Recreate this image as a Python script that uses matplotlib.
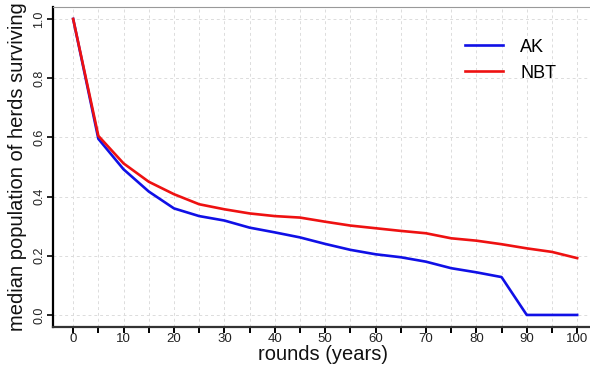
import matplotlib
matplotlib.use("Agg")
import matplotlib.pyplot as plt
import numpy as np

plt.rcParams['font.family'] = ['Liberation Sans', 'DejaVu Sans']

rounds = [0, 5, 10, 15, 20, 25, 30, 35, 40, 45, 50,
          55, 60, 65, 70, 75, 80, 85, 90, 95, 100]
ak = [1.0, 0.595, 0.492, 0.417, 0.360, 0.334, 0.319, 0.295, 0.279, 0.262, 0.240,
      0.220, 0.205, 0.195, 0.180, 0.158, 0.144, 0.128, 0.0, 0.0, 0.0]
nbt = [1.0, 0.605, 0.512, 0.450, 0.408, 0.374, 0.357, 0.343, 0.334, 0.329, 0.315,
       0.302, 0.293, 0.284, 0.276, 0.259, 0.251, 0.239, 0.225, 0.213, 0.192]

x_ticks = np.arange(0, 101, 5)
x_labels = [str(v) if v % 10 == 0 else '' for v in x_ticks]
y_ticks = [0.0, 0.2, 0.4, 0.6, 0.8, 1.0]
y_labels = ['0.0', '0.2', '0.4', '0.6', '0.8', '1.0']

W, H = 590, 367
fig = plt.figure(figsize=(W / 100, H / 100), dpi=100)
ax = fig.add_axes([53 / W, 40.2 / H, 544.3 / W, 319.7 / H])

ax.plot(rounds, ak, color='#1010e6', lw=1.9, label='AK', zorder=3)
ax.plot(rounds, nbt, color='#ee1111', lw=1.9, label='NBT', zorder=3)

ax.set_xlim(-4, 104)
ax.set_ylim(-0.04, 1.04)

ax.set_xticks(x_ticks)
ax.set_xticklabels(x_labels, fontsize=9.5)
ax.set_yticks(y_ticks)
ax.set_yticklabels(y_labels, fontsize=9, rotation=90, va='center')

ax.tick_params(axis='x', direction='out', length=4, width=1.4, pad=0.5, colors='black')
ax.tick_params(axis='y', direction='out', length=4, width=1.2, pad=1.5, colors='black')
for lab in ax.get_xticklabels():
    lab.set_color('#222222')
for lab in ax.get_yticklabels():
    lab.set_color('#222222')

ax.grid(True, color='#dcdcdc', linestyle=(0, (3, 3)), linewidth=0.7, zorder=0)
ax.set_axisbelow(True)

ax.spines['left'].set_linewidth(1.6)
ax.spines['bottom'].set_linewidth(1.6)
ax.spines['left'].set_color('black')
ax.spines['bottom'].set_color('#333333')
ax.spines['top'].set_color('#999999')
ax.spines['top'].set_linewidth(0.8)
ax.spines['right'].set_visible(False)

ax.set_xlabel('rounds (years)', fontsize=14.5, color='#111111')
ax.set_ylabel('median population of herds surviving', fontsize=14.5, color='#111111')
ax.xaxis.label.set_va('center')
ax.yaxis.label.set_va('center')
ax.xaxis.set_label_coords(0.496, -0.088)
ax.yaxis.set_label_coords((18 - 53) / 544.3, 0.5)

ax.legend(loc='upper left', bbox_to_anchor=(465 / W, 1 - 38.5 / H),
          bbox_transform=fig.transFigure, frameon=False, fontsize=13,
          handlelength=2.1, handletextpad=0.95, labelspacing=0.5,
          borderpad=0, borderaxespad=0)

fig.savefig('out.png', dpi=100)
